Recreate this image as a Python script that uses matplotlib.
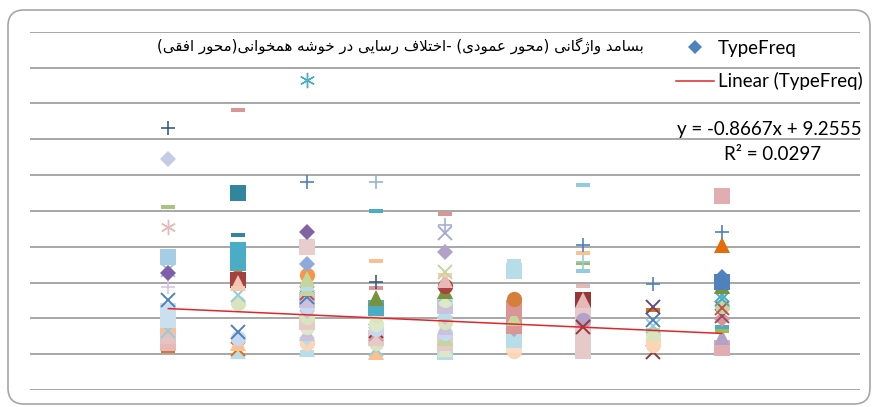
import numpy as np
import matplotlib
matplotlib.use("Agg")
import matplotlib.pyplot as plt
from matplotlib.path import Path
from matplotlib.patches import FancyBboxPatch
from matplotlib.lines import Line2D

# ---------------- data ----------------
title_fa = "بسامد واژگانی (محور عمودی) -اختلاف رسایی در خوشه همخوانی(محور افقی)"
legend_labels = ["TypeFreq", "Linear (TypeFreq)"]
trend_slope = -0.8667
trend_intercept = 9.2555
trend_r2 = 0.0297
x_categories = [-4, -3, -2, -1, 0, 1, 2, 3, 4]

# values (and series ids) per x-category
y_m4 = [1.0, 3.0, 5.0, 8.0, 6.5, 9.5, 12.0, 15.1, 18.7, 23.5, 22.6, 27.2, 35.5, 41.0, 54.4, 63.1]
s_m4 = [13, 12, 11, 79, 5, 9, 9, 8, 7, 5, 6, 4, 3, 2, 1, 0]

y_m3 = [0.8, 1.5, 3.0, 4.5, 6.1, 14.2, 16.5, 23.2, 20.7, 19.8, 18.4, 25.5, 29.0, 33.2, 44.9, 68.1]
s_m3 = [27, 26, 25, 24, 8, 22, 5, 18, 19, 20, 21, 17, 17, 16, 15, 14]

y_m2 = [0.5, 1.5, 3.0, 4.5, 6.0, 7.5, 9.0, 10.5, 12.0, 13.5, 15.0, 16.0, 17.0, 18.5, 20.0, 22.0, 21.0, 25.1, 29.9, 34.1, 48.1, 76.5]
s_m2 = [43, 27, 42, 39, 41, 38, 40, 22, 37, 24, 36, 8, 72, 34, 27, 33, 34, 32, 31, 30, 29, 28]

y_m1 = [0.5, 1.5, 3.0, 4.5, 5.5, 6.5, 7.0, 8.5, 10.9, 12.8, 15.6, 18.4, 20.2, 26.0, 39.9, 48.1]
s_m1 = [25, 5, 22, 40, 35, 63, 24, 38, 22, 17, 47, 14, 0, 46, 45, 44]

y_0 = [0.5, 1.5, 3.0, 4.5, 6.0, 7.5, 9.0, 10.5, 12.0, 13.5, 15.0, 16.5, 17.5, 19.0, 20.7, 22.0, 23.0, 28.6, 33.8, 36.0, 39.1]
s_0 = [48, 23, 40, 34, 24, 41, 22, 37, 27, 36, 38, 5, 47, 53, 77, 21, 52, 56, 50, 49, 14]

y_p1 = [0.8, 2.5, 4.0, 5.5, 7.0, 11.4, 8.0, 10.0, 13.0, 15.3, 23.2, 26.0]
s_p1 = [42, 57, 48, 48, 56, 55, 55, 34, 55, 54, 48, 43]

y_p2 = [0.8, 2.5, 4.0, 5.5, 7.0, 11.5, 13.0, 15.1, 15.0, 9.5, 7.6, 19.1, 23.2, 25.4, 25.8, 28.3, 30.4, 47.2]
s_p2 = [78, 78, 40, 78, 40, 40, 40, 61, 77, 62, 63, 80, 58, 59, 60, 46, 29, 58]

y_p3 = [0.6, 2.5, 4.0, 5.5, 6.7, 8.0, 9.5, 12.3, 13.2, 19.7]
s_p3 = [66, 67, 67, 22, 81, 5, 8, 65, 64, 29]

y_p4 = [1.7, 4.8, 6.5, 7.5, 9.8, 10.6, 13.4, 12.8, 15.5, 16.5, 19.0, 20.2, 21.6, 30.4, 34.1, 44.1]
s_p4 = [76, 74, 59, 45, 73, 75, 71, 72, 70, 70, 47, 69, 68, 18, 29, 76]

# ---------------- styles ----------------
series_marker = [
    '+', 'D', 'dash', 'ast', 's', 'x', 'D', '+', 'x', 's',        # 0-9
    'x', 's', 's', 'dash', 'dash', 's', 'dash', 's', '^', 's',     # 10-19
    '^', 'dash', 'o', '^', 'o', '^', 'x', '^', 'ast', '+',         # 20-29
    'D', 's', 'D', 'o', '^', 'x', 's', 'D', 'o', 'D',              # 30-39
    's', '^', 'o', 'dash', '+', 'dash', 'dash', '^', 's', '+',     # 40-49
    'x', 'D', 'x', 'o', 'o', 's', 'D', 's', 'dash', 'dash',        # 50-59
    '+', 's', 'o', 'x', 'x', 'dash', 'x', 'o', 'D', 's',           # 60-69
    'x', 'o', 'x', 'D', '^', 'x', 's', '^', 's', 's',              # 70-79
    'dash', 'dash',                                                # 80-81
]
series_color = [
    '#385D8A', '#C5CBE6', '#A9C47F', '#E6B9B8', '#A5CDE3', '#93CDDD', '#7F5FA6', '#D7C4E0', '#4F81BD', '#C9E1EE',
    '#F9B98A', '#E6C3C3', '#E6B9B8', '#D4782E', '#D99694', '#31859C', '#31859C', '#4BACC6', '#E46C0A', '#A5403D',
    '#F2C4B8', '#F8CBAD', '#D7E4BD', '#DCE8C6', '#C6D9F1', '#FAC090', '#E46C0A', '#B7DEE8', '#4BACC6', '#4F81BD',
    '#8064A2', '#E9CDCD', '#8EA9DB', '#F79646', '#C3D69B', '#D99694', '#CCC1DA', '#CCC1DA', '#DCE8C6', '#B7DEE8',
    '#E6C9C9', '#CCC1DA', '#FCD5B5', '#B7DEE8', '#95B3D7', '#4BACC6', '#FAC090', '#77933C', '#B7DEE8', '#A9ABD3',
    '#A9ABD3', '#BBB3D3', '#C3D69B', '#A8433F', '#D67F3A', '#D99694', '#B3A2C7', '#FCDCC4', '#93CDDD', '#9BBB59',
    '#93CDDD', '#953735', '#B3A2C7', '#953735', '#604A7B', '#E46C0A', '#8C3836', '#FCD5B5', '#4F81BD', '#4F81BD',
    '#4BACC6', '#C3D69B', '#C0504D', '#D99694', '#B3A2C7', '#9B4A6E', '#E0AEB0', '#E6B9B8', '#E6C9C9', '#F6C09E',
    '#E6B9B8', '#C3D69B',
]

dash_path = Path([(-1, -0.32), (1, -0.32), (1, 0.32), (-1, 0.32), (-1, -0.32)],
                 [Path.MOVETO, Path.LINETO, Path.LINETO, Path.LINETO, Path.CLOSEPOLY])

def marker_kw(m, c):
    if m == 'dash':
        return dict(marker=dash_path, markersize=10.0, markerfacecolor=c, markeredgewidth=0)
    if m == 's':
        return dict(marker='s', markersize=11.5, markerfacecolor=c, markeredgewidth=0)
    if m == 'D':
        return dict(marker='D', markersize=8.6, markerfacecolor=c, markeredgewidth=0)
    if m == '^':
        return dict(marker='^', markersize=11.5, markerfacecolor=c, markeredgewidth=0)
    if m == 'o':
        return dict(marker='o', markersize=11.0, markerfacecolor=c, markeredgewidth=0)
    if m == 'x':
        return dict(marker='x', markersize=9.5, markeredgecolor=c, markeredgewidth=1.4)
    if m == '+':
        return dict(marker='+', markersize=10.5, markeredgecolor=c, markeredgewidth=1.2)
    if m == 'ast':
        return dict(marker=(6, 2, 0), markersize=11.0, markeredgecolor=c, markeredgewidth=1.0)
    return dict(marker=m, color=c)

# ---------------- Persian shaping (no bidi engine available) ----------------
FORMS = {
    'ا': ('\uFE8D', '\uFE8E', None, None),
    'ب': ('\uFE8F', '\uFE90', '\uFE91', '\uFE92'),
    'ت': ('\uFE95', '\uFE96', '\uFE97', '\uFE98'),
    'ح': ('\uFEA1', '\uFEA2', '\uFEA3', '\uFEA4'),
    'خ': ('\uFEA5', '\uFEA6', '\uFEA7', '\uFEA8'),
    'د': ('\uFEA9', '\uFEAA', None, None),
    'ر': ('\uFEAD', '\uFEAE', None, None),
    'س': ('\uFEB1', '\uFEB2', '\uFEB3', '\uFEB4'),
    'ش': ('\uFEB5', '\uFEB6', '\uFEB7', '\uFEB8'),
    'ع': ('\uFEC9', '\uFECA', '\uFECB', '\uFECC'),
    'ف': ('\uFED1', '\uFED2', '\uFED3', '\uFED4'),
    'ق': ('\uFED5', '\uFED6', '\uFED7', '\uFED8'),
    'ل': ('\uFEDD', '\uFEDE', '\uFEDF', '\uFEE0'),
    'م': ('\uFEE1', '\uFEE2', '\uFEE3', '\uFEE4'),
    'ن': ('\uFEE5', '\uFEE6', '\uFEE7', '\uFEE8'),
    'ه': ('\uFEE9', '\uFEEA', '\uFEEB', '\uFEEC'),
    'و': ('\uFEED', '\uFEEE', None, None),
    '\u06CC': ('\uFBFC', '\uFBFD', '\uFBFE', '\uFBFF'),
    'ژ': ('\uFB8A', '\uFB8B', None, None),
    'گ': ('\uFB92', '\uFB93', '\uFB94', '\uFB95'),
}

def shape_rtl(text):
    text = text.replace('\u064A', '\u06CC').replace('\u0649', '\u06CC')
    ch = list(text)
    n = len(ch)
    dual = lambda c: c in FORMS and FORMS[c][2] is not None
    res = []
    i = 0
    while i < n:
        c = ch[i]
        if c not in FORMS:
            res.append(c); i += 1; continue
        prev = ch[i - 1] if i > 0 else ''
        cp = dual(prev)
        if c == 'ل' and i + 1 < n and ch[i + 1] == 'ا':
            res.append('\uFEFC' if cp else '\uFEFB'); i += 2; continue
        nxt = ch[i + 1] if i + 1 < n else ''
        cn = dual(c) and (nxt in FORMS)
        iso, fin, ini, med = FORMS[c]
        g = med if (cp and cn) else fin if cp else ini if cn else iso
        res.append(g); i += 1
    vis = ''.join(reversed(res))
    return vis.translate(str.maketrans('()', ')('))

# ---------------- figure ----------------
W, H = 873, 407
fig = plt.figure(figsize=(W / 100, H / 100), dpi=100)
fig.patch.set_facecolor('white')

bg = fig.add_axes([0, 0, 1, 1], zorder=-5)
bg.set_xlim(0, W); bg.set_ylim(H, 0); bg.axis('off')
bg.add_patch(FancyBboxPatch((8, 10), 862, 394, boxstyle='round,pad=0,rounding_size=16',
                            facecolor='white', edgecolor='#A6A6A6', linewidth=1.2))

L, R, T, B = 30, 860, 31.7, 390
ax = fig.add_axes([L / W, 1 - B / H, (R - L) / W, (B - T) / H])
ax.set_xlim(-6, 6)
ax.set_ylim(-10, 90)
ax.set_yticks(np.arange(-10, 91, 10))
ax.set_xticks([])
ax.tick_params(left=False, labelleft=False)
ax.grid(axis='y', color='#A0A0A0', linewidth=1.3)
ax.set_axisbelow(True)
for sp in ax.spines.values():
    sp.set_visible(False)
ax.patch.set_alpha(0)

columns = [y_m4, y_m3, y_m2, y_m1, y_0, y_p1, y_p2, y_p3, y_p4]
col_series = [s_m4, s_m3, s_m2, s_m1, s_0, s_p1, s_p2, s_p3, s_p4]
z = 3
for xc, ys, ss in zip(x_categories, columns, col_series):
    for yv, sid in zip(ys, ss):
        ax.plot([xc], [yv], linestyle='none', zorder=z,
                **marker_kw(series_marker[sid], series_color[sid]))
        z += 0.001

# linear trend line
xt = np.array([min(x_categories), max(x_categories)], dtype=float)
ax.plot(xt, trend_slope * xt + trend_intercept, color='#E0262B', linewidth=1.1, zorder=10)

# legend
lat = 'Lato'
fs = 13.5
h1 = Line2D([], [], linestyle='none', marker='D', markersize=6.8, markerfacecolor='#4F81BD',
            markeredgewidth=0)
h2 = Line2D([], [], color='#E0262B', linewidth=1.1)
leg = fig.legend([h1, h2], legend_labels, loc='upper left',
                 bbox_to_anchor=(676 / W, 1 - 40 / H), frameon=False,
                 prop={'family': lat, 'size': fs}, handlelength=2.05, handletextpad=0.18,
                 labelspacing=0.8, borderpad=0, borderaxespad=0)

bg.text(862, 130, "y = {:.4f}x + {:.4f}".format(trend_slope, trend_intercept),
        ha='right', va='center', fontsize=fs, family=lat, color='#000000')
bg.text(773, 155, "R² = {:.4f}".format(trend_r2), ha='center', va='center',
        fontsize=fs, family=lat, color='#000000')

bg.text(400, 46, shape_rtl(title_fa), ha='center', va='center', fontsize=10.8,
        family=['DejaVu Sans'], color='#000000')

fig.savefig('out.png', dpi=100, facecolor='white')
